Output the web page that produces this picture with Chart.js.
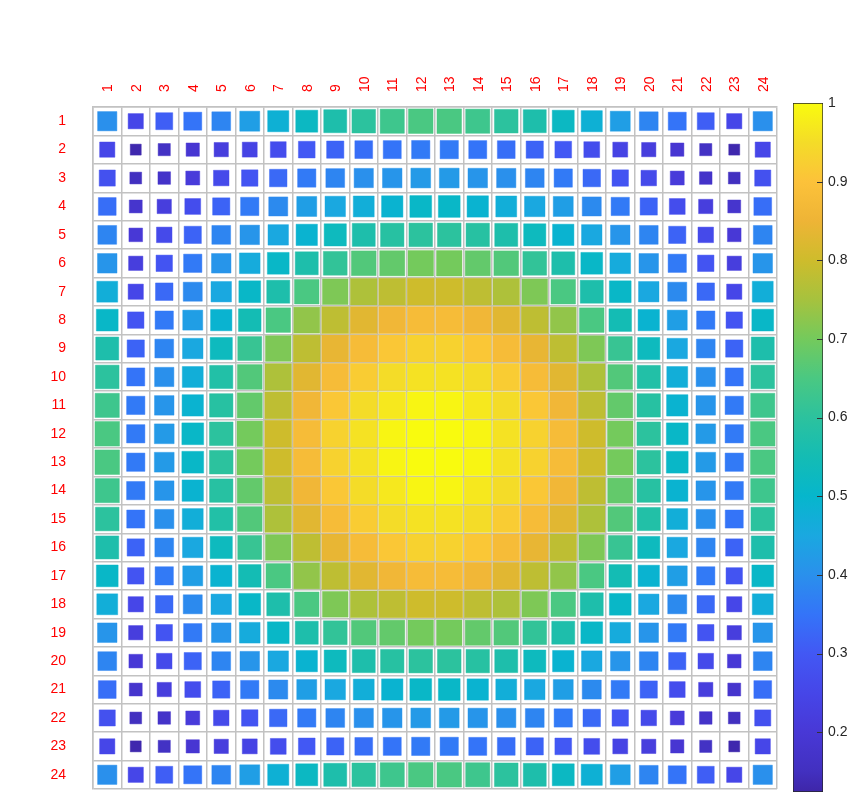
<!DOCTYPE html>
<html>
<head>
<meta charset="utf-8">
<script src="https://cdn.jsdelivr.net/npm/chart.js@4.4.0/dist/chart.umd.min.js"></script>
<style>
  html, body { margin: 0; padding: 0; background: #fff; }
  #wrap { position: relative; width: 865px; height: 809px; }
  #matrix { position: absolute; left: 0; top: 0; }
  #cbar { position: absolute; left: 780px; top: 0; }
</style>
</head>
<body>
<div id="wrap">
  <canvas id="matrix" width="865" height="809"></canvas>
  <canvas id="cbar" width="85" height="809"></canvas>
</div>
<script>
// row / column tick labels
const rowLabels = ['1','2','3','4','5','6','7','8','9','10','11','12','13','14','15','16','17','18','19','20','21','22','23','24'];
const colLabels = ['1','2','3','4','5','6','7','8','9','10','11','12','13','14','15','16','17','18','19','20','21','22','23','24'];

// colour limits of the colorbar
const cMin = 0.124;
const cMax = 1;

// matrix values (row by row)
const values = [
  [0.40,0.25,0.31,0.35,0.38,0.43,0.48,0.52,0.57,0.60,0.63,0.65,0.65,0.63,0.60,0.57,0.52,0.48,0.43,0.38,0.35,0.31,0.25,0.40],
  [0.25,0.13,0.16,0.19,0.22,0.24,0.27,0.30,0.32,0.34,0.35,0.36,0.36,0.35,0.34,0.32,0.30,0.27,0.24,0.22,0.19,0.16,0.13,0.25],
  [0.28,0.15,0.17,0.21,0.26,0.29,0.33,0.36,0.38,0.40,0.41,0.42,0.42,0.41,0.40,0.38,0.36,0.33,0.29,0.26,0.21,0.17,0.15,0.28],
  [0.34,0.18,0.22,0.27,0.32,0.36,0.39,0.43,0.45,0.47,0.49,0.51,0.51,0.49,0.47,0.45,0.43,0.39,0.36,0.32,0.27,0.22,0.18,0.34],
  [0.38,0.20,0.26,0.32,0.38,0.41,0.45,0.49,0.53,0.57,0.59,0.60,0.60,0.59,0.57,0.53,0.49,0.45,0.41,0.38,0.32,0.26,0.20,0.38],
  [0.41,0.22,0.29,0.36,0.41,0.46,0.51,0.57,0.61,0.66,0.68,0.70,0.70,0.68,0.66,0.61,0.57,0.51,0.46,0.41,0.36,0.29,0.22,0.41],
  [0.47,0.25,0.33,0.39,0.45,0.51,0.57,0.65,0.71,0.76,0.78,0.80,0.80,0.78,0.76,0.71,0.65,0.57,0.51,0.45,0.39,0.33,0.25,0.47],
  [0.51,0.29,0.36,0.43,0.49,0.55,0.65,0.73,0.78,0.83,0.86,0.88,0.88,0.86,0.83,0.78,0.73,0.65,0.55,0.49,0.43,0.36,0.29,0.51],
  [0.57,0.32,0.38,0.45,0.53,0.62,0.71,0.78,0.84,0.88,0.91,0.93,0.93,0.91,0.88,0.84,0.78,0.71,0.62,0.53,0.45,0.38,0.32,0.57],
  [0.60,0.35,0.40,0.47,0.58,0.66,0.76,0.83,0.88,0.92,0.95,0.96,0.96,0.95,0.92,0.88,0.83,0.76,0.66,0.58,0.47,0.40,0.35,0.60],
  [0.63,0.36,0.41,0.49,0.59,0.68,0.78,0.86,0.91,0.95,0.97,0.99,0.99,0.97,0.95,0.91,0.86,0.78,0.68,0.59,0.49,0.41,0.36,0.63],
  [0.65,0.36,0.42,0.51,0.60,0.70,0.80,0.88,0.93,0.96,0.99,1.00,1.00,0.99,0.96,0.93,0.88,0.80,0.70,0.60,0.51,0.42,0.36,0.65],
  [0.65,0.36,0.42,0.51,0.60,0.70,0.80,0.88,0.93,0.96,0.99,1.00,1.00,0.99,0.96,0.93,0.88,0.80,0.70,0.60,0.51,0.42,0.36,0.65],
  [0.63,0.36,0.41,0.49,0.59,0.68,0.78,0.86,0.91,0.95,0.97,0.99,0.99,0.97,0.95,0.91,0.86,0.78,0.68,0.59,0.49,0.41,0.36,0.63],
  [0.60,0.35,0.40,0.47,0.58,0.66,0.76,0.83,0.88,0.92,0.95,0.96,0.96,0.95,0.92,0.88,0.83,0.76,0.66,0.58,0.47,0.40,0.35,0.60],
  [0.57,0.32,0.38,0.45,0.53,0.62,0.71,0.78,0.84,0.88,0.91,0.93,0.93,0.91,0.88,0.84,0.78,0.71,0.62,0.53,0.45,0.38,0.32,0.57],
  [0.51,0.29,0.36,0.43,0.49,0.55,0.65,0.73,0.78,0.83,0.86,0.88,0.88,0.86,0.83,0.78,0.73,0.65,0.55,0.49,0.43,0.36,0.29,0.51],
  [0.47,0.25,0.33,0.39,0.45,0.51,0.57,0.65,0.71,0.76,0.78,0.80,0.80,0.78,0.76,0.71,0.65,0.57,0.51,0.45,0.39,0.33,0.25,0.47],
  [0.41,0.22,0.29,0.36,0.41,0.46,0.51,0.57,0.61,0.66,0.68,0.70,0.70,0.68,0.66,0.61,0.57,0.51,0.46,0.41,0.36,0.29,0.22,0.41],
  [0.38,0.20,0.26,0.32,0.38,0.41,0.45,0.49,0.53,0.57,0.59,0.60,0.60,0.59,0.57,0.53,0.49,0.45,0.41,0.38,0.32,0.26,0.20,0.38],
  [0.34,0.18,0.22,0.27,0.32,0.36,0.39,0.43,0.45,0.47,0.49,0.51,0.51,0.49,0.47,0.45,0.43,0.39,0.36,0.32,0.27,0.22,0.18,0.34],
  [0.28,0.15,0.17,0.21,0.26,0.29,0.33,0.36,0.38,0.40,0.41,0.42,0.42,0.41,0.40,0.38,0.36,0.33,0.29,0.26,0.21,0.17,0.15,0.28],
  [0.25,0.13,0.16,0.19,0.22,0.24,0.27,0.30,0.32,0.34,0.35,0.36,0.36,0.35,0.34,0.32,0.30,0.27,0.24,0.22,0.19,0.16,0.13,0.25],
  [0.40,0.25,0.31,0.35,0.38,0.43,0.48,0.52,0.57,0.60,0.63,0.65,0.65,0.63,0.60,0.57,0.52,0.48,0.43,0.38,0.35,0.31,0.25,0.40]
];

// parula-like colormap, value -> colour
const parulaStops = [
  [0.124, '#3e26a8'], [0.15, '#4230c0'], [0.20, '#4838d6'], [0.25, '#4646e8'],
  [0.30, '#4258f4'], [0.35, '#3474f8'], [0.40, '#2a90ec'], [0.45, '#1aa8e0'],
  [0.50, '#06b6cc'], [0.55, '#14bcb4'], [0.60, '#2cc29e'], [0.65, '#4ac882'],
  [0.70, '#74ca5c'], [0.75, '#a6c23e'], [0.80, '#cebc2c'], [0.85, '#eeb436'],
  [0.90, '#fcc23a'], [0.95, '#f4dc28'], [1.00, '#f9fb0e']
];

const FONT = "'Liberation Sans', Arial, sans-serif";

function hexRgb(h) {
  return [parseInt(h.slice(1, 3), 16), parseInt(h.slice(3, 5), 16), parseInt(h.slice(5, 7), 16)];
}

function parula(v, alpha) {
  v = Math.min(cMax, Math.max(cMin, v));
  let i = 0;
  while (i < parulaStops.length - 2 && v > parulaStops[i + 1][0]) i++;
  const [v0, h0] = parulaStops[i], [v1, h1] = parulaStops[i + 1];
  const t = (v - v0) / (v1 - v0);
  const a = hexRgb(h0), b = hexRgb(h1);
  const c = a.map((x, k) => Math.round(x + (b[k] - x) * t));
  return 'rgba(' + c[0] + ',' + c[1] + ',' + c[2] + ',' + (alpha == null ? 1 : alpha) + ')';
}

const points = [];
values.forEach((row, i) => row.forEach((v, j) => {
  points.push({ x: colLabels[j], y: rowLabels[i], v: v });
}));

const gridColor = '#c2c2c2';

new Chart(document.getElementById('matrix'), {
  type: 'scatter',
  data: {
    datasets: [{
      data: points,
      pointStyle: 'rect',
      // square area follows the value
      pointRadius: ctx => {
        const area = ctx.chart.chartArea;
        if (!area || !ctx.raw) return 0;
        const cell = (area.right - area.left) / colLabels.length;
        const side = Math.min(cell - 1.5, cell * 1.07 * Math.sqrt(ctx.raw.v));
        return side / Math.SQRT2;
      },
      pointBackgroundColor: ctx => ctx.raw ? parula(ctx.raw.v) : '#000',
      pointBorderColor: ctx => ctx.raw ? parula(ctx.raw.v, 0.45) : '#000',
      pointBorderWidth: 1
    }]
  },
  options: {
    responsive: false,
    animation: false,
    events: [],
    layout: { padding: { left: 0, top: 0, right: 88, bottom: 20 } },
    plugins: { legend: { display: false }, tooltip: { enabled: false } },
    scales: {
      x: {
        type: 'category',
        labels: colLabels,
        position: 'top',
        offset: true,
        grid: { offset: true, color: gridColor, lineWidth: 1.5, drawTicks: false },
        border: { color: gridColor, width: 1.5 },
        ticks: {
          color: '#ff0000', font: { size: 14, family: FONT },
          minRotation: 90, maxRotation: 90, padding: 15, autoSkip: false,
          labelOffset: 18
        },
        afterFit: s => { s.height = 107; s.paddingLeft = 0; s.paddingRight = 0; }
      },
      y: {
        type: 'category',
        labels: rowLabels,
        position: 'left',
        offset: true,
        grid: { offset: true, color: gridColor, lineWidth: 1.5, drawTicks: false },
        border: { color: gridColor, width: 1.5 },
        ticks: { color: '#ff0000', font: { size: 14, family: FONT }, padding: 27, autoSkip: false },
        afterFit: s => { s.width = 93; s.paddingTop = 0; s.paddingBottom = 0; }
      }
    }
  }
});

// small tick marks drawn inside the colorbar, on its right edge
const innerTicks = {
  id: 'innerTicks',
  afterDatasetsDraw(chart) {
    const s = chart.scales.y, a = chart.chartArea, c = chart.ctx;
    c.save();
    c.strokeStyle = '#333';
    c.lineWidth = 1;
    s.ticks.forEach(t => {
      if (t.value >= cMax) return;
      const y = Math.round(s.getPixelForValue(t.value)) + 0.5;
      c.beginPath();
      c.moveTo(a.right - 6, y);
      c.lineTo(a.right, y);
      c.stroke();
    });
    c.restore();
  }
};

new Chart(document.getElementById('cbar'), {
  type: 'bar',
  data: {
    labels: [''],
    datasets: [{
      data: [[cMin, cMax]],
      backgroundColor: ctx => {
        const area = ctx.chart.chartArea;
        if (!area) return '#888';
        const g = ctx.chart.ctx.createLinearGradient(0, area.bottom, 0, area.top);
        parulaStops.forEach(([v, col]) => g.addColorStop((v - cMin) / (cMax - cMin), col));
        return g;
      },
      borderColor: '#262626',
      borderWidth: 1,
      borderSkipped: false,
      barPercentage: 1,
      categoryPercentage: 1
    }]
  },
  options: {
    responsive: false,
    animation: false,
    events: [],
    layout: { padding: { left: 13, top: 103, bottom: 17, right: 0 } },
    plugins: { legend: { display: false }, tooltip: { enabled: false } },
    scales: {
      x: { display: false },
      y: {
        position: 'right',
        min: cMin,
        max: cMax,
        grid: { display: false, drawTicks: false },
        border: { display: false },
        ticks: {
          stepSize: 0.1, includeBounds: false, padding: 5,
          color: '#262626', font: { size: 14, family: FONT },
          callback: v => String(Math.round(v * 10) / 10)
        },
        afterFit: s => { s.width = 42; s.paddingTop = 0; s.paddingBottom = 0; }
      }
    }
  },
  plugins: [innerTicks]
});
</script>
</body>
</html>
